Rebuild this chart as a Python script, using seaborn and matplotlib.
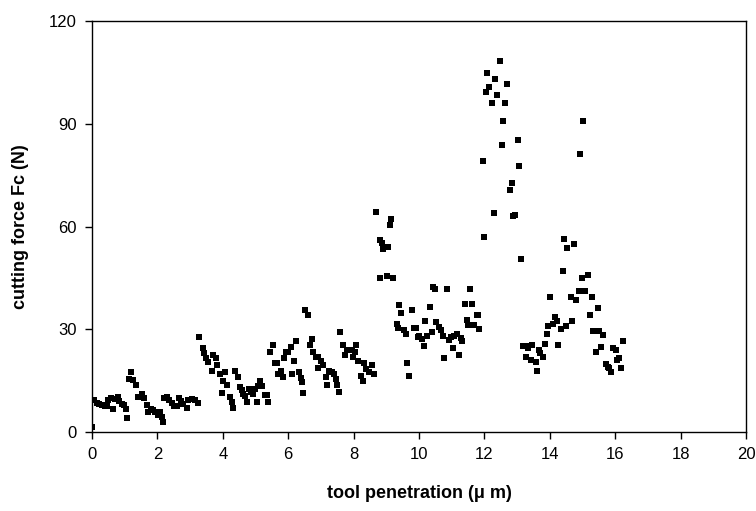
import matplotlib
matplotlib.use("Agg")
import matplotlib.pyplot as plt
import seaborn as sns
import pandas as pd

penetration = [
    0.01, 0.06, 0.14, 0.22, 0.32, 0.40, 0.47, 0.50, 0.58, 0.65, 0.70, 0.78, 0.83, 0.91, 0.98,
    1.03, 1.08, 1.13, 1.19, 1.26, 1.35, 1.42, 1.52, 1.60, 1.67, 1.72, 1.80, 1.87, 1.93,
    2.03, 2.08, 2.13, 2.16, 2.21, 2.28, 2.36, 2.44, 2.51, 2.59, 2.66, 2.72, 2.79, 2.90, 2.95,
    3.05, 3.15, 3.23,
    3.28, 3.38, 3.43, 3.48, 3.56, 3.68, 3.71, 3.78, 3.83, 3.91, 3.97, 4.02, 4.07, 4.12, 4.22,
    4.27, 4.32, 4.37, 4.47, 4.53, 4.58, 4.63, 4.68, 4.75, 4.80, 4.86, 4.91, 4.98, 5.06, 5.09,
    5.14, 5.21, 5.29, 5.36, 5.39, 5.44, 5.52, 5.60, 5.67, 5.68, 5.77, 5.83, 5.88, 5.93, 6.00,
    6.08, 6.13, 6.18, 6.23, 6.32, 6.38, 6.42, 6.46, 6.51, 6.62, 6.67, 6.72, 6.77, 6.85, 6.90,
    6.92, 7.00, 7.05, 7.16, 7.20, 7.26, 7.33, 7.40, 7.45, 7.50, 7.54, 7.58, 7.69, 7.74,
    7.79, 7.89, 7.94, 8.04, 7.97, 8.07, 8.12, 8.23, 8.28, 8.32, 8.38, 8.47, 8.57, 8.62,
    8.68, 8.81, 8.88, 8.91, 9.06, 9.10, 9.13, 8.81, 9.01, 9.21,
    9.32, 9.37, 9.40, 9.45, 9.54, 9.60, 9.64, 9.69, 9.80, 9.86, 9.91, 9.96, 10.01, 10.08,
    10.14, 10.18, 10.23, 10.34, 10.39, 10.44, 10.49, 10.52, 10.62, 10.67, 10.72, 10.77,
    10.87, 10.92, 10.97, 11.03, 11.07, 11.17, 11.21, 11.28, 11.32, 11.41, 11.46, 11.51,
    11.56, 11.61, 11.69, 11.76, 11.81, 11.82,
    11.95, 12.00, 12.04, 12.09, 12.14, 12.24, 12.29, 12.33, 12.39, 12.49, 12.53, 12.58,
    12.63, 12.68, 12.78, 12.83, 12.88, 12.93, 13.03, 13.07, 13.12, 13.17, 13.27, 13.29,
    13.34, 13.42, 13.45, 13.58, 13.62, 13.66, 13.70, 13.80, 13.85, 13.90, 13.95, 14.01,
    14.11, 14.16, 14.21, 14.24, 14.34, 14.39, 14.44, 14.50, 14.54, 14.64, 14.69, 14.74,
    14.79, 14.88, 14.92, 14.98, 15.03, 15.08, 15.18, 15.23, 15.28, 15.33, 15.42, 15.47,
    15.51, 15.57, 15.62, 15.72, 15.79, 15.82, 15.86, 15.94, 16.01, 16.07, 16.12, 16.17, 16.25,
]

force = [
    1.6, 9.4, 8.4, 8.2, 7.8, 7.6, 7.6, 9.4, 9.9, 6.6, 9.6, 10.3, 9.1, 8.2, 7.9,
    6.6, 4.2, 15.5, 17.4, 15.2, 13.8, 10.3, 11.0, 10.0, 7.9, 5.9, 6.6, 6.4, 5.7,
    5.0, 5.9, 4.3, 2.8, 10.0, 10.3, 9.4, 8.6, 7.6, 7.6, 9.9, 9.1, 8.2, 6.9, 9.4,
    9.7, 9.4, 8.6,
    27.6, 24.5, 23.0, 21.6, 20.3, 17.9, 22.5, 21.6, 19.6, 17.0, 11.3, 15.0, 17.4, 13.6, 10.3,
    8.8, 7.1, 17.9, 16.0, 13.1, 12.3, 11.1, 10.5, 8.9, 12.7, 11.8, 11.1, 12.5, 8.9, 13.3,
    15.0, 13.3, 10.8, 10.8, 8.9, 23.3, 25.3, 20.1, 20.1, 16.9, 17.9, 16.0, 21.6, 23.5, 23.5,
    24.8, 17.0, 20.8, 26.7, 17.5, 15.7, 14.5, 11.3, 35.7, 34.2, 25.3, 27.2, 23.5, 22.0, 18.8,
    22.0, 20.6, 19.6, 16.0, 13.6, 17.9, 17.6, 16.9, 15.4, 13.6, 11.8, 29.1, 25.5, 22.5,
    24.0, 24.0, 23.8, 23.4, 22.0, 25.4, 20.6, 16.4, 15.0, 20.1, 18.3, 17.6, 19.6, 16.9,
    64.2, 56.2, 55.3, 53.5, 54.1, 60.4, 62.3, 45.0, 45.5, 45.0,
    31.5, 30.5, 37.0, 34.7, 29.7, 28.6, 20.1, 16.4, 35.5, 30.5, 30.5, 27.7, 28.1, 27.1,
    25.0, 32.3, 28.1, 36.6, 29.1, 42.3, 41.8, 32.0, 30.6, 29.7, 28.1, 21.6,
    41.8, 26.9, 27.6, 24.5, 27.9, 28.6, 22.5, 27.4, 26.7, 37.5, 32.8, 31.3,
    41.8, 37.5, 31.2, 34.2, 34.2, 30.0,
    79.2, 56.8, 99.4, 104.9, 100.8, 96.1, 63.8, 103.1, 98.4, 108.2, 83.9, 90.9,
    96.1, 101.7, 70.8, 72.6, 63.0, 63.3, 85.3, 77.7, 50.6, 25.0, 22.0, 25.0,
    24.5, 21.1, 25.3, 20.3, 17.9, 24.0, 23.0, 22.0, 25.8, 28.7, 31.0, 39.4,
    31.5, 33.7, 32.3, 25.4, 30.0, 46.9, 56.4, 31.0, 53.8, 39.4, 32.3, 54.8,
    38.4, 41.3, 81.1, 45.0, 90.9, 41.3, 45.9, 34.2, 39.4, 29.6, 23.4, 36.2,
    29.6, 24.9, 28.2, 19.8, 19.1, 18.6, 17.4, 24.4, 24.0, 21.1, 21.6, 18.8, 26.7,
]

x_ticks = [0, 2, 4, 6, 8, 10, 12, 14, 16, 18, 20]
y_ticks = [0, 30, 60, 90, 120]

df = pd.DataFrame({"x": penetration, "y": force})

sns.set_style("white")
plt.rcParams["font.family"] = ["Liberation Sans", "DejaVu Sans"]
plt.rcParams["text.color"] = "black"
plt.rcParams["axes.labelcolor"] = "black"
plt.rcParams["xtick.color"] = "black"
plt.rcParams["ytick.color"] = "black"

fig = plt.figure(figsize=(7.56, 5.11), dpi=100)
ax = fig.add_axes([92 / 756, 1 - 432 / 511, (746 - 92) / 756, (432 - 21) / 511])

sns.scatterplot(data=df, x="x", y="y", ax=ax, marker="s", color="black",
                s=13, linewidth=0, legend=False)

ax.set_xlim(0, 20)
ax.set_ylim(0, 120)
ax.set_xticks(x_ticks)
ax.set_yticks(y_ticks)
ax.set_xticklabels([str(t) for t in x_ticks], fontsize=12)
ax.set_yticklabels([str(t) for t in y_ticks], fontsize=12)
ax.tick_params(axis="both", direction="out", length=5, width=1, colors="black",
               bottom=True, left=True, pad=6)
for sp in ax.spines.values():
    sp.set_visible(True)
    sp.set_color("black")
    sp.set_linewidth(1.0)

ax.set_xlabel("tool penetration (\u03bc m)", fontsize=13, fontweight="bold",
              labelpad=16, color="black")
ax.set_ylabel("cutting force Fc (N)", fontsize=13, fontweight="bold",
              labelpad=14, color="black")

fig.savefig("out.png", dpi=100)
